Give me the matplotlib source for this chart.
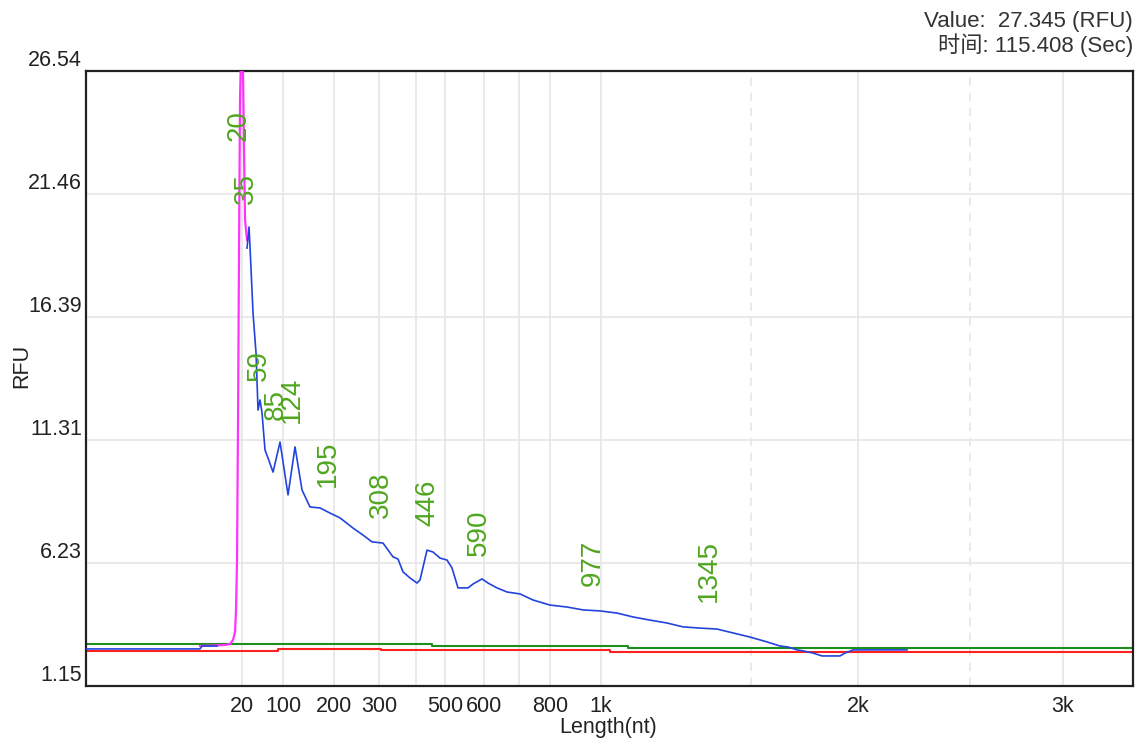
import matplotlib
matplotlib.use('Agg')

import numpy as np
import matplotlib.pyplot as plt

plt.rcParams['font.family'] = ['Liberation Sans', 'Noto Sans CJK SC', 'DejaVu Sans']

#----------------------------------------------------------------
# Data: migration time (sec) vs RFU
#----------------------------------------------------------------
sample_time = [40.0, 51.4, 51.6, 53.1, np.nan,
               56.1, 56.3, 56.4, 56.7, 57.0, 57.2, 57.4, 57.6, 57.9, 58.2,
               58.7, 59.4, 60.2, 60.9, 61.6, 62.4, 63.4, 64.4, 65.4, 66.7,
               67.7, 68.6, 69.7, 70.7, 71.2, 71.7, 72.4, 73.1, 73.4, 74.1,
               74.7, 75.4, 76.1, 76.6, 77.2, 78.2, 78.7, 79.6, 80.2, 81.1,
               82.1, 83.4, 84.7, 86.4, 88.1, 89.7, 91.4, 93.1, 94.7, 96.4,
               98.1, 99.7, 101.4, 103.1, 104.7, 106.4, 108.1, 109.4, 110.2,
               111.1, 111.7, 112.7, 113.6, 115.4, 115.9, 116.7, 122.1]
sample_rfu = [2.68, 2.68, 2.80, 2.80, np.nan,
              19.23, 20.10, 19.27, 16.55, 14.90, 12.54, 12.96, 12.42, 10.89, 10.56,
              9.98, 11.22, 9.04, 11.02, 9.24, 8.54, 8.50, 8.29, 8.09, 7.67,
              7.38, 7.10, 7.05, 6.48, 6.39, 5.86, 5.61, 5.40, 5.53, 6.76,
              6.68, 6.43, 6.35, 6.02, 5.20, 5.20, 5.36, 5.57, 5.40, 5.20,
              5.03, 4.95, 4.70, 4.49, 4.41, 4.29, 4.25, 4.16, 4.00, 3.87,
              3.75, 3.59, 3.54, 3.50, 3.34, 3.17, 2.97, 2.80, 2.76,
              2.64, 2.60, 2.51, 2.39, 2.39, 2.51, 2.64, 2.64]

marker_time = [51.4, 53.9, 54.4, 54.7, 54.9, 55.0, 55.1, 55.2, 55.3, 55.4,
               55.5, 55.6, 55.7, 55.8, 55.9, 56.1]
marker_rfu = [2.80, 2.84, 2.88, 3.05, 3.38, 4.29, 6.35, 12.13, 19.15, 25.34,
              27.35, 27.0, 26.46, 23.28, 20.39, 19.56]

green_time = [40.0, 74.6, 74.6, 94.2, 94.2, 144.7]
green_rfu = [2.88, 2.88, 2.80, 2.80, 2.70, 2.70]

red_time = [40.0, 59.2, 59.2, 69.5, 69.5, 92.4, 92.4, 144.7]
red_rfu = [2.60, 2.60, 2.68, 2.68, 2.62, 2.62, 2.55, 2.55]

# ladder: size (nt) -> migration time
ladder_nt = [20, 100, 200, 300, 400, 500, 600, 700, 800, 1000, 1500, 2000, 2500, 3000]
ladder_time = [55.6, 59.7, 64.8, 69.3, 73.0, 75.9, 79.8, 83.3, 86.4, 91.5, 106.5, 117.2, 128.4, 137.7]
ladder_label = ['20', '100', '200', '300', '', '500', '600', '', '800', '1k', '', '2k', '', '3k']
ladder_dashed = [1500, 2500]

# called peaks
peak_nt = ['20', '35', '59', '85', '124', '195', '308', '446', '590', '977', '1345']
peak_time = [55.3, 56.0, 57.3, 59.0, 60.6, 64.2, 69.5, 74.1, 79.3, 90.7, 102.3]
peak_label_rfu = [24.27, 21.71, 14.40, 12.79, 12.96, 10.31, 9.04, 8.71, 7.47, 6.23, 5.90]

rfu_ticks = [1.15, 6.23, 11.31, 16.39, 21.46, 26.54]

cursor_value = 27.345
cursor_time = 115.408


fig = plt.figure(figsize=(11.38, 7.40), dpi=100)
ax = fig.add_axes([0.0756, 0.073, 0.9200, 0.831])

#**********************
# grid
#**********************
for nt, t in zip(ladder_nt, ladder_time):
    ls = (0, (5, 4)) if nt in ladder_dashed else '-'
    ax.axvline(t, color='#e6e6e6', lw=1.2, ls=ls, zorder=0)
for v in rfu_ticks:
    ax.axhline(v, color='#e6e6e6', lw=1.2, zorder=0)

#**********************
# traces
#**********************
ax.plot(red_time, red_rfu, color='#ff2020', lw=1.5, zorder=2)
ax.plot(green_time, green_rfu, color='#1c8f1c', lw=1.5, zorder=2)
ax.plot(marker_time, marker_rfu, color='#ff33ff', lw=1.6, zorder=3)
ax.plot(sample_time, sample_rfu, color='#2244dd', lw=1.2, zorder=4)

#**********************
# peak labels
#**********************
for lab, t, v in zip(peak_nt, peak_time, peak_label_rfu):
    ax.text(t, v, lab, rotation=90, ha='center', va='center',
            fontsize=20, color='#4fa61e', zorder=5)

#**********************
# axes
#**********************
ax.set_xlim(40.0, 144.7)
ax.set_ylim(1.15, 26.54)

ax.set_xticks(ladder_time)
ax.set_xticklabels(ladder_label)
ax.set_yticks(rfu_ticks)
ax.set_yticklabels(['%.2f' % v for v in rfu_ticks])
for t in ax.get_yticklabels():
    t.set_verticalalignment('bottom')
ax.tick_params(axis='both', length=0, labelsize=15.5, colors='#222222')
ax.tick_params(axis='x', pad=7)
ax.tick_params(axis='y', pad=3)

for s in ax.spines.values():
    s.set_color('#222222')
    s.set_linewidth(1.6)

fig.text(22 / 1138, 1 - 366 / 740, 'RFU', rotation=90, ha='center', va='center',
         fontsize=15.5, color='#222222')
fig.text(608 / 1138, 1 - 727 / 740, 'Length(nt)', ha='center', va='center',
         fontsize=15.5, color='#222222')

fig.text(1133 / 1138, 1 - 21 / 740, 'Value:  %.3f (RFU)' % cursor_value,
         ha='right', va='center', fontsize=16, color='#333333')
fig.text(1133 / 1138, 1 - 45 / 740, '时间: %.3f (Sec)' % cursor_time,
         ha='right', va='center', fontsize=16, color='#333333')

fig.savefig('out.png', dpi=100)
plt.close(fig)
